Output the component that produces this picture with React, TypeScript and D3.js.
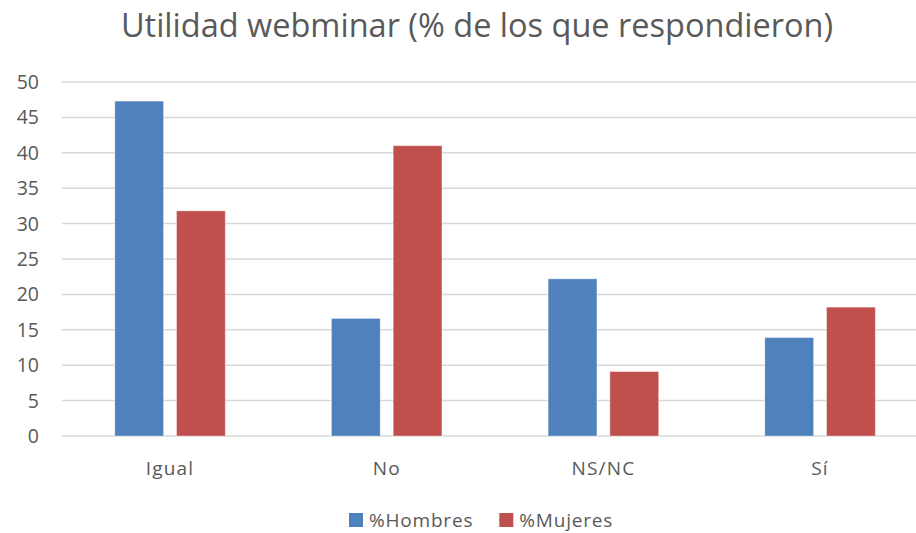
import * as d3 from 'd3';

const categories = ['Igual', 'No', 'NS/NC', 'Sí'];
const series = ['%Hombres', '%Mujeres'];
const hombres = [47.3, 16.6, 22.2, 13.9];
const mujeres = [31.8, 41.0, 9.1, 18.2];
const yTicks = [0, 5, 10, 15, 20, 25, 30, 35, 40, 45, 50];
const colors = ['#4f81bd', '#c0504d'];

const W = 916;
const H = 533;
const FONT = "'Open Sans', sans-serif";

export default function App() {
  // plot area (right side runs past the crop, like the original)
  const left = 61.7;
  const right = 928.4;
  const top = 82;
  const bottom = 436;

  const x0 = d3.scaleBand().domain(categories).range([left, right]).paddingInner(0.49).paddingOuter(0.245);
  const x1 = d3.scaleBand().domain(series).range([0, x0.bandwidth()]).paddingInner(0.21);
  const y = d3.scaleLinear().domain([0, 50]).range([bottom, top]);

  const values = [hombres, mujeres];

  return (
    <svg
      width={W}
      height={H}
      style={{ position: 'absolute', left: 0, top: 0, display: 'block' }}
      fontFamily={FONT}
    >
      <rect width={W} height={H} fill="#fff" />
      <text x={W / 2 + 19} y={37} textAnchor="middle" fontSize={32.5} fill="#595959">
        Utilidad webminar (% de los que respondieron)
      </text>

      {/* grid + y axis */}
      {yTicks.map((t) => (
        <g key={t}>
          <line x1={left} x2={W} y1={y(t)} y2={y(t)} stroke="#d9d9d9" strokeWidth={1.5} />
          <text x={39} y={y(t)} dy="0.36em" textAnchor="end" fontSize={19.5} fill="#595959">
            {t}
          </text>
        </g>
      ))}

      {/* bars */}
      {categories.map((c, i) => (
        <g key={c} transform={`translate(${x0(c)},0)`}>
          {series.map((s, j) => (
            <rect
              key={s}
              x={x1(s)}
              y={y(values[j][i])}
              width={x1.bandwidth()}
              height={bottom - y(values[j][i])}
              fill={colors[j]}
              stroke="#fff"
              strokeOpacity={0.35}
              strokeWidth={1}
            />
          ))}
          <text
            x={x0.bandwidth() / 2}
            y={475}
            textAnchor="middle"
            fontSize={19}
            letterSpacing={1.2}
            fill="#595959"
          >
            {c}
          </text>
        </g>
      ))}

      {/* legend */}
      {series.map((s, j) => (
        <g key={s} transform={`translate(${349 + j * 150.3},513)`}>
          <rect width={14} height={14} fill={colors[j]} />
          <text x={20} y={14} fontSize={19} letterSpacing={0.8} fill="#595959">
            {s}
          </text>
        </g>
      ))}
    </svg>
  );
}
